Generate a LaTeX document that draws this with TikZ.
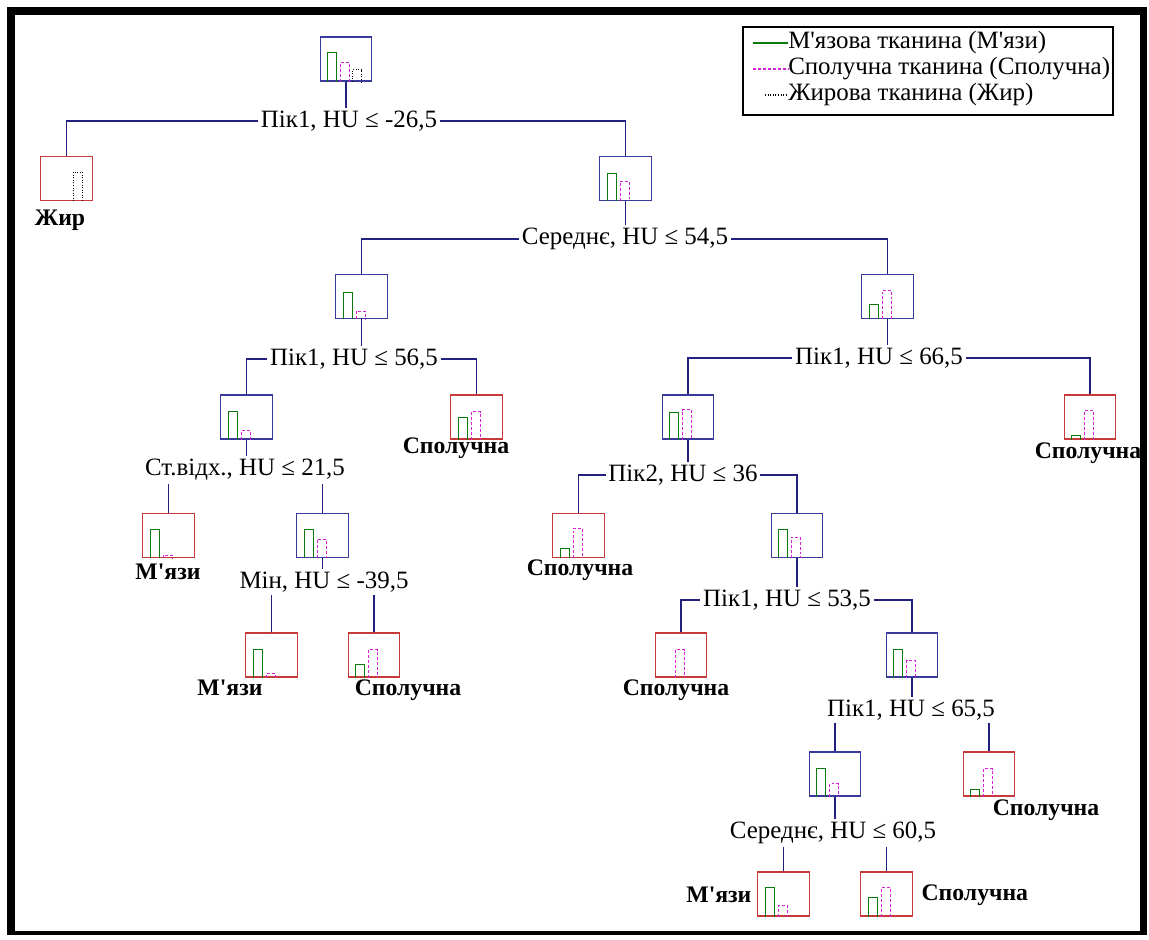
\documentclass[tikz,border=0pt]{standalone}
\usepackage{fontspec}
\setmainfont{Liberation Serif}[Ligatures=TeXOff]
\definecolor{splitblue}{HTML}{3A3A9C}
\definecolor{leafred}{HTML}{C83A3A}
\definecolor{edgeblue}{HTML}{22227E}
\definecolor{musclegreen}{HTML}{0A7A0A}
\definecolor{tissuepink}{HTML}{D81ED8}
% bars of one node: name, muscle, tissue, fat (heights in px)
\newcommand\bars[4]{%
  \begin{scope}[shift={(#1.south west)}]
    \ifnum#2>0 \draw[barM] (8,0) |- (17,-#2) -- (17,0);\fi
    \ifnum#3>0 \draw[barS] (21,0) |- (30,-#3) -- (30,0);\fi
    \ifnum#4>0 \draw[barF] (33,0) |- (42,-#4) -- (42,0);\fi
  \end{scope}}
\begin{document}
\begin{tikzpicture}[x=0.75pt, y=-0.75pt,
  split/.style = {draw=splitblue, line width=0.9pt, minimum width=38.5pt, minimum height=33pt, inner sep=0pt},
  leaf/.style = {split, draw=leafred},
  cond/.style = {inner sep=2pt, font=\fontsize{18.7}{21}\selectfont},
  cls/.style = {inner sep=1pt, font=\fontsize{17.8}{20}\selectfont\bfseries},
  edge/.style = {draw=edgeblue, line width=0.8pt},
  barM/.style = {draw=musclegreen, line width=0.8pt},
  barS/.style = {draw=tissuepink, line width=0.8pt, dash pattern=on 2.2pt off 1.5pt},
  barF/.style = {draw=black, line width=0.8pt, dash pattern=on 0.7pt off 1.2pt}]
\useasboundingbox (0,0) rectangle (1149,939);
\fill[white] (0,0) rectangle (1149,939);
% frame
\fill[black] (7,7) rectangle (1147,935);
\fill[white] (15,15) rectangle (1140,931);

% legend
\node[draw, line width=0.8pt, minimum width=277.5pt, minimum height=66pt] (legend) at (928,71) {};
\node[cond, anchor=west, inner sep=0pt] (l1) at (788,43) {М'язова тканина (М'язи)};
\node[cond, anchor=west, inner sep=0pt] (l2) at (788,69) {Сполучна тканина (Сполучна)};
\node[cond, anchor=west, inner sep=0pt] (l3) at (788,95) {Жирова тканина (Жир)};
\draw[barM] ([xshift=-26pt]l1.west) -- (l1.west);
\draw[barS] ([xshift=-26pt]l2.west) -- (l2.west);
\draw[barF] ([xshift=-17pt]l3.west) -- (l3.west);

% nodes
\node[split] (A) at (346,59) {};
\node[cond] (a) at (349,121) {Пік1, HU ≤ -26,5};
\node[leaf] (fat1) at (66.5,178.5) {};
\node[cls] (fat1c) at (60,220) {Жир};
\node[split] (B) at (625.5,178.5) {};
\node[cond] (b) at (625,239) {Середнє, HU ≤ 54,5};
\node[split] (C) at (361.5,296.5) {};
\node[cond] (c) at (354,359) {Пік1, HU ≤ 56,5};
\node[split] (D) at (246.5,417) {};
\node[cond] (d) at (245,470) {Ст.відх., HU ≤ 21,5};
\node[leaf] (E) at (476.5,417) {};
\node[cls] (Ec) at (456,448) {Сполучна};
\node[leaf] (I) at (168.5,535.5) {};
\node[cls] (Ic) at (168,572) {М'язи};
\node[split] (J) at (322.5,535.5) {};
\node[cond] (j) at (324,582) {Мін, HU ≤ -39,5};
\node[leaf] (K) at (271.5,655) {};
\node[cls] (Kc) at (230,688) {М'язи};
\node[leaf] (L) at (374,655) {};
\node[cls] (Lc) at (408,690) {Сполучна};
\node[split] (F) at (887.5,296.5) {};
\node[cond] (f) at (879,358) {Пік1, HU ≤ 66,5};
\node[split] (G) at (688,417) {};
\node[cond] (g) at (683,475) {Пік2, HU ≤ 36};
\node[leaf] (H) at (1090,417) {};
\node[cls] (Hc) at (1088,453) {Сполучна};
\node[leaf] (M) at (578.5,535.5) {};
\node[cls] (Mc) at (580,570) {Сполучна};
\node[split] (N) at (797,535.5) {};
\node[cond] (n) at (787,600) {Пік1, HU ≤ 53,5};
\node[leaf] (O) at (681,655) {};
\node[cls] (Oc) at (676,690) {Сполучна};
\node[split] (P) at (912,655) {};
\node[cond] (p) at (911,710) {Пік1, HU ≤ 65,5};
\node[split] (Q) at (835,774) {};
\node[cond] (q) at (833,833) {Середнє, HU ≤ 60,5};
\node[leaf] (T) at (989,774) {};
\node[cls] (Tc) at (1046,810) {Сполучна};
\node[leaf] (R) at (783.5,894) {};
\node[cls, anchor=east] (Rc) at (753,895) {М'язи};
\node[leaf] (S) at (886.5,894) {};
\node[cls, anchor=west] (Sc) at (920,895) {Сполучна};

% histograms
\bars{A}{29}{19}{12}
\bars{fat1}{0}{0}{29}
\bars{B}{28}{20}{0}
\bars{C}{27}{8}{0}
\bars{D}{28}{9}{0}
\bars{E}{22}{28}{0}
\bars{F}{15}{29}{0}
\bars{G}{27}{30}{0}
\bars{H}{4}{29}{0}
\bars{I}{29}{3}{0}
\bars{J}{29}{19}{0}
\bars{K}{28}{4}{0}
\bars{L}{13}{28}{0}
\bars{M}{10}{30}{0}
\bars{N}{29}{21}{0}
\bars{O}{0}{28}{0}
\bars{P}{28}{17}{0}
\bars{Q}{28}{13}{0}
\bars{T}{7}{28}{0}
\bars{R}{29}{11}{0}
\bars{S}{19}{29}{0}

% connectors
\draw[edge] (A.south) -- (A.south |- a.north);
\draw[edge] (a.west) -| (fat1.north);
\draw[edge] (a.east) -| (B.north);
\draw[edge] (B.south) -- (B.south |- b.north);
\draw[edge] (b.west) -| (C.north);
\draw[edge] (b.east) -| (F.north);
\draw[edge] (C.south) -- (C.south |- c.north);
\draw[edge] (c.west) -| (D.north);
\draw[edge] (c.east) -| (E.north);
\draw[edge] (D.south) -- (D.south |- d.north);
\draw[edge] (I.north) -- (I.north |- d.south);
\draw[edge] (J.north) -- (J.north |- d.south);
\draw[edge] (J.south) -- (J.south |- j.north);
\draw[edge] (K.north) -- (K.north |- j.south);
\draw[edge] (L.north) -- (L.north |- j.south);
\draw[edge] (F.south) -- (F.south |- f.north);
\draw[edge] (f.west) -| (G.north);
\draw[edge] (f.east) -| (H.north);
\draw[edge] (G.south) -- (G.south |- g.north);
\draw[edge] (g.west) -| (M.north);
\draw[edge] (g.east) -| (N.north);
\draw[edge] (N.south) -- (N.south |- n.north);
\draw[edge] (n.west) -| (O.north);
\draw[edge] (n.east) -| (P.north);
\draw[edge] (P.south) -- (P.south |- p.north);
\draw[edge] (Q.north) -- (Q.north |- p.south);
\draw[edge] (T.north) -- (T.north |- p.south);
\draw[edge] (Q.south) -- (Q.south |- q.north);
\draw[edge] (R.north) -- (R.north |- q.south);
\draw[edge] (S.north) -- (S.north |- q.south);
\end{tikzpicture}
\end{document}
